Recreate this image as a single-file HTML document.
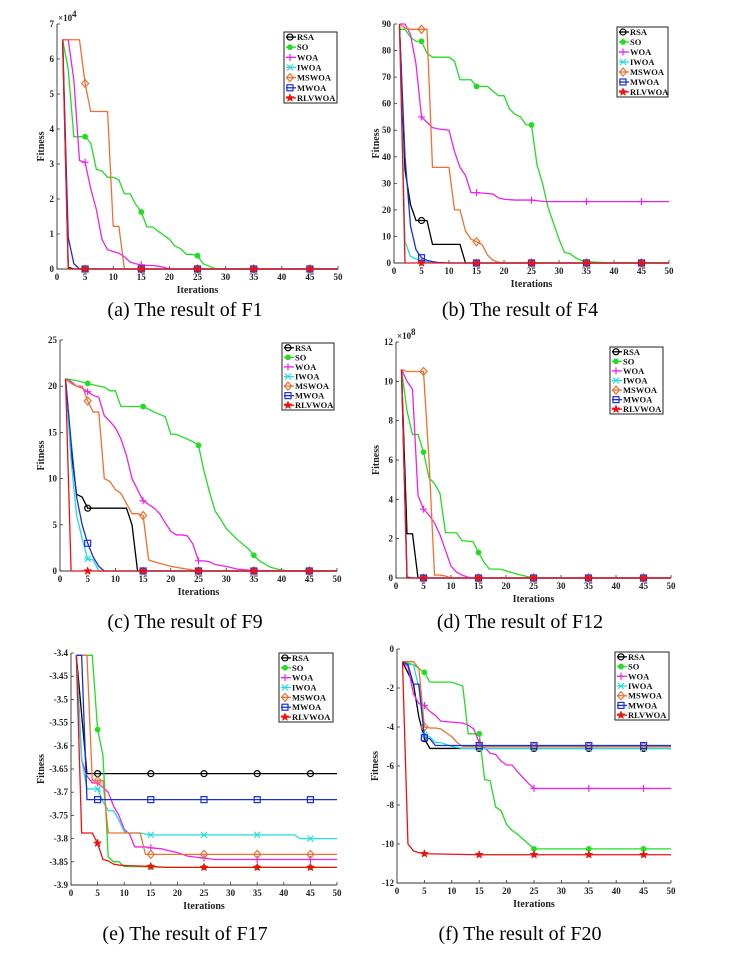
<!DOCTYPE html>
<html><head><meta charset="utf-8">
<style>
html,body{margin:0;padding:0;background:#fff;}
svg{display:block;}
.cap{font-family:"Liberation Serif",serif;font-size:20px;fill:#000;}
.tk{font-family:"Liberation Serif",serif;font-size:9px;font-weight:bold;fill:#222;}
.al{font-family:"Liberation Serif",serif;font-size:10px;font-weight:bold;fill:#222;}
.lg{font-family:"Liberation Serif",serif;font-size:8.5px;font-weight:bold;fill:#111;}
</style></head>
<body>
<svg id="fig" width="737" height="961" viewBox="0 0 737 961" xmlns="http://www.w3.org/2000/svg"></svg>
<script>
const seriesNames = ["RSA","SO","WOA","IWOA","MSWOA","MWOA","RLVWOA"];
const seriesColors = ["#000000","#22dd22","#ee22ee","#22dddd","#f07030","#1a2ee0","#ee1111"];
const markerIters = [5,15,25,35,45];
const xTicks = [0,5,10,15,20,25,30,35,40,45,50];

const F1_iters = [
 [1,2,3,50],
 [1,2,3,4,5,6,7,8,9,10,11,12,13,14,15,16,17,18,20,21,22,23,24,25,26,28,29,50],
 [1,2,3,4,5,6,7,8,9,10,11,12,13,14,15,16,17,18,19,20,50],
 [1,2,50],
 [1,4,5,6,9,10,11,12,50],
 [1,2,3,4,50],
 [1,2,50]];
const F1_values = [
 [6.55,0.05,0,0],
 [6.55,5.7,3.78,3.78,3.78,3.6,2.85,2.8,2.62,2.62,2.55,2.15,2.15,1.85,1.63,1.2,1.2,1.08,0.85,0.65,0.58,0.42,0.42,0.38,0.15,0.02,0,0],
 [6.55,6.55,5.4,3.1,3.05,2.3,1.7,0.85,0.55,0.5,0.45,0.35,0.2,0.15,0.12,0.1,0.1,0.08,0.05,0,0],
 [6.55,0,0],
 [6.55,6.55,5.3,4.5,4.5,1.22,1.22,0,0],
 [6.55,0.9,0.15,0,0],
 [6.55,0,0]];
const F1_yTicks = [0,1,2,3,4,5,6,7];

const F4_iters = [
 [1,2,3,4,5,6,7,12,13,50],
 [1,2,3,4,5,6,7,10,11,12,14,15,17,19,20,21,22,23,24,25,26,27,28,29,30,31,32,33,34,35,38,40,50],
 [1,2,3,4,5,6,7,8,10,11,12,13,14,15,18,19,20,22,25,27,28,50],
 [1,2,3,4,5,6,7,10,50],
 [1,2,3,4,5,6,7,10,11,12,13,14,15,16,17,18,19,20,50],
 [1,2,3,4,5,6,7,8,10,50],
 [1,2,50]];
const F4_values = [
 [89,35,22,16,16,16,7,7,0,0],
 [88,88,85,83.5,83.5,79,77.5,77.5,76,69,69,66.5,66.5,63,63,58,56,55,52,52,37,30,21,15,9,4,3.5,2,1,0.5,0.2,0,0],
 [90,90,86,75,55,53,51,50.5,50,42,36,33,26.5,26.5,26,24.5,24,23.7,23.7,23.2,23.1,23.1],
 [89,8,2.5,1.5,0.8,0.5,0.3,0,0],
 [90,88.5,88,88,88,88,36,36,20,20,12,9,8,7,3,1,0.3,0,0],
 [89,40,14,5,2,1,0.5,0.2,0,0],
 [90,0,0]];
const F4_yTicks = [0,10,20,30,40,50,60,70,80,90];

const F9_iters = [
 [1,2,3,4,5,6,12,13,14,50],
 [1,3,5,7,8,9,10,11,15,17,19,20,21,24,25,26,27,28,29,30,32,34,35,36,38,40,42,43,50],
 [1,2,3,4,5,6,7,8,9,10,11,12,13,14,15,16,17,18,19,20,21,22,23,24,25,26,27,28,30,32,35,50],
 [1,2,3,4,5,6,7,50],
 [1,2,3,4,5,6,7,8,9,10,11,12,13,14,15,16,17,20,22,25,50],
 [1,2,3,4,5,6,7,8,9,50],
 [1,2,50]];
const F9_values = [
 [20.8,13,8.3,8,6.8,6.8,6.8,5,0,0],
 [20.8,20.6,20.3,20,19.9,19.5,19.5,17.8,17.8,17.2,16.7,14.8,14.8,14,13.6,10.8,8.5,6.5,5.6,4.6,3.4,2.4,1.7,1.1,0.4,0.1,0,0,0],
 [20.8,20.5,20,19.8,19.4,19,18.8,16.8,16.2,15.5,14.3,12.5,10,8.8,7.6,7.2,6.8,6.2,5.2,4.3,3.9,3.9,3.8,2.9,1.1,1.1,1,0.7,0.5,0.2,0.05,0],
 [20.8,12,6,3.5,1.3,1.2,0,0],
 [20.8,20.3,20,20,18.4,17.2,17.2,10,9.7,8.8,8.4,7.3,6.2,6.2,6,1.2,1,0.5,0.3,0,0],
 [20.8,14,8,5,3,1.5,0.5,0,0,0],
 [20.8,0,0]];
const F9_yTicks = [0,5,10,15,20,25];

const F12_iters = [
 [1,2,3,4,50],
 [1,2,3,4,5,6,7,8,9,10,11,12,14,15,16,17,19,22,25,26,50],
 [1,2,3,4,5,6,7,8,9,10,11,12,13,14,15,50],
 [1,2,50],
 [1,2,3,4,5,6,7,8,9,10,50],
 [1,2,3,50],
 [1,2,50]];
const F12_values = [
 [10.6,2.25,2.25,0,0],
 [10.6,8.5,7.3,7.3,6.4,5.1,4.8,4.3,2.3,2.3,2.3,1.9,1.85,1.3,0.8,0.45,0.45,0.2,0,0,0],
 [10.6,10,9.6,4.2,3.5,3.2,2.8,2.2,1.4,0.6,0.3,0.15,0.05,0,0,0],
 [10.6,0,0],
 [10.6,10.5,10.5,10.5,10.5,6,0.15,0.15,0.1,0,0],
 [10.6,0.05,0,0],
 [10.6,0,0]];
const F12_yTicks = [0,2,4,6,8,10,12];

const F17_iters = [
 [1,3,50],
 [1,4,5,6,7,8,9,10,15,20,50],
 [1,2,3,4,5,6,7,8,9,10,11,12,13,14,15,17,18,20,22,25,27,50],
 [1,2,3,4,5,6,7,8,9,10,11,12,13,14,15,42,43,50],
 [1,3,4,6,7,13,14,15,50],
 [1,2,3,50],
 [1,2,3,4,5,6,7,8,9,10,15,18,50]];
const F17_values = [
 [-3.405,-3.66,-3.66],
 [-3.405,-3.405,-3.565,-3.62,-3.84,-3.85,-3.85,-3.86,-3.861,-3.862,-3.862],
 [-3.405,-3.63,-3.665,-3.68,-3.68,-3.69,-3.70,-3.73,-3.75,-3.78,-3.79,-3.818,-3.818,-3.818,-3.82,-3.822,-3.825,-3.83,-3.838,-3.842,-3.845,-3.845],
 [-3.405,-3.63,-3.693,-3.693,-3.693,-3.72,-3.74,-3.74,-3.76,-3.785,-3.788,-3.788,-3.788,-3.79,-3.792,-3.792,-3.8,-3.8],
 [-3.405,-3.405,-3.675,-3.675,-3.788,-3.788,-3.834,-3.834,-3.834],
 [-3.405,-3.405,-3.716,-3.716],
 [-3.405,-3.788,-3.788,-3.788,-3.81,-3.845,-3.848,-3.855,-3.857,-3.858,-3.86,-3.862,-3.862]];
const F17_yTicks = [-3.4,-3.45,-3.5,-3.55,-3.6,-3.65,-3.7,-3.75,-3.8,-3.85,-3.9];

const F20_iters = [
 [1,3,4,5,6,50],
 [1,3,4,5,6,10,11,12,13,14,15,16,17,18,19,20,21,22,24,25,50],
 [1,2,3,4,5,6,7,8,12,13,14,15,16,17,18,19,20,21,22,23,24,25,50],
 [1,2,3,4,5,6,7,8,10,12,50],
 [1,2,3,4,5,6,7,8,9,10,11,12,50],
 [1,2,3,4,5,6,7,8,50],
 [1,2,3,4,5,15,50]];
const F20_values = [
 [-0.65,-1.8,-3.5,-4.6,-5.1,-5.1],
 [-0.65,-0.8,-1.0,-1.2,-1.7,-1.7,-1.8,-1.9,-4.35,-4.35,-4.35,-6.7,-6.75,-8.1,-8.3,-9.0,-9.3,-9.5,-10.0,-10.25,-10.25],
 [-0.65,-0.9,-2.3,-2.8,-2.9,-3.2,-3.4,-3.7,-3.8,-3.9,-4.1,-4.8,-5.05,-5.35,-5.4,-5.75,-5.95,-5.95,-6.3,-6.6,-6.9,-7.15,-7.15],
 [-0.65,-0.8,-0.8,-2.0,-4.4,-4.5,-4.8,-4.8,-5.0,-5.1,-5.1],
 [-0.65,-0.65,-0.65,-1.0,-4.0,-4.05,-4.05,-4.1,-4.3,-4.5,-4.8,-5.0,-5.0],
 [-0.65,-0.8,-1.8,-1.8,-4.55,-4.6,-4.95,-4.95,-4.95],
 [-0.65,-10.0,-10.35,-10.45,-10.5,-10.55,-10.55]];
const F20_yTicks = [0,-2,-4,-6,-8,-10,-12];

const NS = "http://www.w3.org/2000/svg";
const fig = document.getElementById('fig');
function mk(tag, attrs, parent){
  const e = document.createElementNS(NS, tag);
  for (const k in attrs) e.setAttribute(k, attrs[k]);
  parent.appendChild(e); return e;
}
function interp(xs, ys, x){
  for (let i=0;i<xs.length-1;i++){
    if (x>=xs[i] && x<=xs[i+1]) { const t=(x-xs[i])/(xs[i+1]-xs[i]); return ys[i]+t*(ys[i+1]-ys[i]); }
  }
  return ys[ys.length-1];
}
function marker(g, k, cx, cy, col){
  let m;
  if (k===0) m = mk('circle',{cx:cx,cy:cy,r:3,fill:'none',stroke:col,'stroke-width':1.2},g);
  else if (k===1) m = mk('circle',{cx:cx,cy:cy,r:2.4,fill:col,stroke:col},g);
  else if (k===2) m = mk('path',{d:`M${cx-3.5} ${cy}H${cx+3.5}M${cx} ${cy-3.5}V${cy+3.5}`,stroke:col,'stroke-width':1.2},g);
  else if (k===3) m = mk('path',{d:`M${cx-3} ${cy-3}L${cx+3} ${cy+3}M${cx-3} ${cy+3}L${cx+3} ${cy-3}M${cx-3.5} ${cy}H${cx+3.5}`,stroke:col,'stroke-width':1.1},g);
  else if (k===4) m = mk('path',{d:`M${cx} ${cy-4}L${cx+3.5} ${cy}L${cx} ${cy+4}L${cx-3.5} ${cy}Z`,fill:'none',stroke:col,'stroke-width':1.2},g);
  else if (k===5) m = mk('rect',{x:cx-3,y:cy-3,width:6,height:6,fill:'none',stroke:col,'stroke-width':1.2},g);
  else {
    let d=''; for(let i=0;i<10;i++){const r=i%2?1.8:4.2;const a=-Math.PI/2+i*Math.PI/5;d+=(i?'L':'M')+(cx+r*Math.cos(a)).toFixed(2)+' '+(cy+r*Math.sin(a)).toFixed(2);} d+='Z';
    m = mk('path',{d:d,fill:col,stroke:col,'stroke-width':0.5},g);
  }
  
  
}
function panel(id, iters, values, yTicks, box, cap, exp, legendBox){
  const g = mk('g',{},fig);
  
  
  const xs = v => box.x0 + (v/50)*(box.x1-box.x0);
  const ys = v => box.yb + (v - box.vb)/(box.vt - box.vb)*(box.yt - box.yb);
  const ax = mk('path',{d:`M${box.x0} ${box.yt}V${box.yb}H${box.x1}`,fill:'none',stroke:'#333','stroke-width':0.9},g);
  
  
  xTicks.forEach(t=>{
    const X=xs(t);
    const tl = mk('line',{x1:X,x2:X,y1:box.yb,y2:box.yb-3,stroke:'#333','stroke-width':0.8},g);
    
    
    const tx = mk('text',{x:X,y:box.yb+11,'text-anchor':'middle',class:'tk'},g);
    tx.textContent = t;
    
    
  });
  yTicks.forEach(t=>{
    const Y=ys(t);
    const tl = mk('line',{x1:box.x0,x2:box.x0+3,y1:Y,y2:Y,stroke:'#333','stroke-width':0.8},g);
    
    
    const tx = mk('text',{x:box.x0-3,y:Y+3,'text-anchor':'end',class:'tk'},g);
    tx.textContent = String(t);
    
    
  });
  const xl = mk('text',{x:(box.x0+box.x1)/2,y:box.yb+24,'text-anchor':'middle',class:'al'},g);
  xl.textContent='Iterations';
  
  
  const yx = box.ylx, yy=(box.yt+box.yb)/2;
  const yl = mk('text',{x:yx,y:yy,'text-anchor':'middle',class:'al',transform:`rotate(-90 ${yx} ${yy})`},g);
  yl.textContent='Fitness';
  
  
  if (exp){
    const et = mk('text',{x:box.x0+1,y:box.yt-3,class:'tk','font-weight':'normal'},g);
    et.textContent='\u00d710';
    
    
    const es = mk('text',{x:box.x0+15,y:box.yt-7,class:'tk','font-size':'6','font-weight':'normal'},g);
    es.textContent=exp;
    
    
  }
  iters.forEach((it,k)=>{
    const sg = mk('g',{},g);
    
    
    const pts = it.map((x,i)=>xs(x).toFixed(2)+','+ys(values[k][i]).toFixed(2)).join(' ');
    const pl = mk('polyline',{points:pts,fill:'none',stroke:seriesColors[k],'stroke-width':1.3},sg);
    
    
    markerIters.forEach(m=>{ marker(sg,k,xs(m),ys(interp(it,values[k],m)),seriesColors[k]); });
  });
  const lg = mk('g',{},g);
  
  
  const lb = mk('rect',{x:legendBox.x,y:legendBox.y,width:legendBox.w,height:legendBox.h,fill:'#fff',stroke:'#222','stroke-width':1},lg);
  
  
  const step = legendBox.h/7;
  seriesNames.forEach((n,k)=>{
    const Y = legendBox.y + step*(k+0.5);
    const ln = mk('line',{x1:legendBox.x+2,x2:legendBox.x+12,y1:Y,y2:Y,stroke:seriesColors[k],'stroke-width':1.3},lg);
    
    
    marker(lg,k,legendBox.x+6,Y,seriesColors[k]);
    const t = mk('text',{x:legendBox.x+13,y:Y+3,class:'lg'},lg);
    t.textContent=n;
    
    
  });
  const ct = mk('text',{x:cap.x,y:cap.y,'text-anchor':'middle',class:'cap'},fig);
  ct.textContent = cap.t;
  
  
}
panel('f1',F1_iters,F1_values,F1_yTicks,{x0:57,x1:338,yt:24,yb:269,vt:7,vb:0,ylx:44},{x:185,y:316,t:'(a) The result of F1'},'4',{x:284,y:32,w:53,h:71});
panel('f4',F4_iters,F4_values,F4_yTicks,{x0:394,x1:669,yt:24,yb:263,vt:90,vb:0,ylx:379},{x:520,y:316,t:'(b) The result of F4'},null,{x:617,y:27,w:51,h:70});
panel('f9',F9_iters,F9_values,F9_yTicks,{x0:60,x1:337,yt:340,yb:571,vt:25,vb:0,ylx:44},{x:185,y:628,t:'(c) The result of F9'},null,{x:282,y:343,w:52,h:67});
panel('f12',F12_iters,F12_values,F12_yTicks,{x0:396,x1:671,yt:342,yb:578,vt:12,vb:0,ylx:379},{x:520,y:628,t:'(d) The result of F12'},'8',{x:610,y:347,w:53,h:67});
panel('f17',F17_iters,F17_values,F17_yTicks,{x0:71,x1:337,yt:653,yb:885,vt:-3.4,vb:-3.9,ylx:44},{x:185,y:940,t:'(e) The result of F17'},null,{x:279,y:653,w:54,h:69});
panel('f20',F20_iters,F20_values,F20_yTicks,{x0:397,x1:671,yt:649,yb:883,vt:0,vb:-12,ylx:378},{x:520,y:940,t:'(f) The result of F20'},null,{x:615,y:652,w:54,h:68});
</script>
</body></html>
